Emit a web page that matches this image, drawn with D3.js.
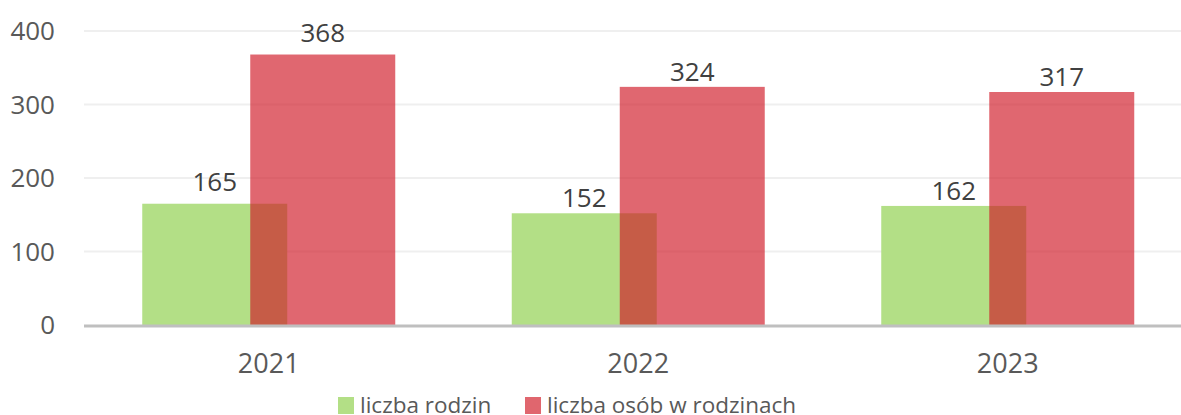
<!DOCTYPE html>
<meta charset="utf-8">
<style>
	body {
		margin: 0;
		padding: 0;
		background: #ffffff;
		font-family: 'Open Sans', sans-serif;
	}
	.axis text {
		fill: #595959;
		font-size: 26px;
	}
	.grid line {
		stroke: #efefef;
		stroke-width: 2px;
	}
	.val {
		fill: #404040;
		font-size: 26px;
	}
	.legend text {
		fill: #595959;
		font-size: 22.5px;
	}
</style>
<body>
<svg class="chart"></svg>
</body>
<script src="https://d3js.org/d3.v7.min.js"></script>
<script>

var years = ["2021", "2022", "2023"];
var families = [165, 152, 162];
var persons = [368, 324, 317];
var seriesNames = ["liczba rodzin", "liczba osób w rodzinach"];
var yTicks = [0, 100, 200, 300, 400];

var width = 1181, height = 415;
var margin = {top: 31, left: 84, bottom: 90};
var plotRight = 1192.5;

var svg = d3.select(".chart")
	.attr("width", width)
	.attr("height", height);

var x = d3.scaleBand()
	.domain(years)
	.range([margin.left, plotRight]);

var y = d3.scaleLinear()
	.domain([0, 400])
	.range([height - margin.bottom, margin.top]);

var barW = 145, overlap = 37;
var span = barW * 2 - overlap;

// first category labels sit a bit higher in the original
function gap(i) { return i === 0 ? 13 : 6; }

// gridlines
svg.append("g")
	.attr("class", "grid")
	.selectAll("line")
	.data(yTicks.slice(1))
  .enter().append("line")
	.attr("x1", margin.left)
	.attr("x2", width)
	.attr("y1", function(d) { return y(d); })
	.attr("y2", function(d) { return y(d); });

// y tick labels
svg.append("g")
	.attr("class", "axis")
	.selectAll("text")
	.data(yTicks)
  .enter().append("text")
	.attr("x", 55)
	.attr("y", function(d) { return y(d) + 9; })
	.attr("text-anchor", "end")
	.text(function(d) { return d; });

var c = function(i) { return x(years[i]) + x.bandwidth() / 2; };

// green bars
svg.selectAll(".bar1")
	.data(families)
  .enter().append("rect")
	.attr("class", "bar1")
	.attr("x", function(d, i) { return c(i) - span / 2; })
	.attr("y", function(d) { return y(d); })
	.attr("width", barW)
	.attr("height", function(d) { return y(0) - y(d); })
	.attr("fill", "#b3df86");

// red bars (semi transparent, drawn on top)
svg.selectAll(".bar2")
	.data(persons)
  .enter().append("rect")
	.attr("class", "bar2")
	.attr("x", function(d, i) { return c(i) - span / 2 + barW - overlap; })
	.attr("y", function(d) { return y(d); })
	.attr("width", barW)
	.attr("height", function(d) { return y(0) - y(d); })
	.attr("fill", "rgb(208,25,38)")
	.attr("fill-opacity", 0.66);

// value labels
svg.selectAll(".val1")
	.data(families)
  .enter().append("text")
	.attr("class", "val")
	.attr("x", function(d, i) { return c(i) - span / 2 + barW / 2; })
	.attr("y", function(d, i) { return y(d) - gap(i); })
	.attr("text-anchor", "middle")
	.text(function(d) { return d; });

svg.selectAll(".val2")
	.data(persons)
  .enter().append("text")
	.attr("class", "val")
	.attr("x", function(d, i) { return c(i) - span / 2 + barW - overlap + barW / 2; })
	.attr("y", function(d, i) { return y(d) - gap(i); })
	.attr("text-anchor", "middle")
	.text(function(d) { return d; });

// baseline
svg.append("line")
	.attr("x1", margin.left)
	.attr("x2", width)
	.attr("y1", y(0) + 1)
	.attr("y2", y(0) + 1)
	.attr("stroke", "#bfbfbf")
	.attr("stroke-width", 3);

// x labels
svg.append("g")
	.attr("class", "axis")
	.selectAll("text")
	.data(years)
  .enter().append("text")
	.attr("x", function(d, i) { return c(i); })
	.attr("y", 373)
	.attr("text-anchor", "middle")
	.style("font-size", "27px")
	.text(function(d) { return d; });

// legend
var legend = svg.append("g").attr("class", "legend");
var legX = [338, 525];
var legCol = ["#b3df86", "#e0666e"];
seriesNames.forEach(function(name, i) {
	legend.append("rect")
		.attr("x", legX[i])
		.attr("y", 397)
		.attr("width", 16)
		.attr("height", 17)
		.attr("fill", legCol[i]);
	legend.append("text")
		.attr("x", legX[i] + 22)
		.attr("y", 413)
		.text(name);
});

</script>
